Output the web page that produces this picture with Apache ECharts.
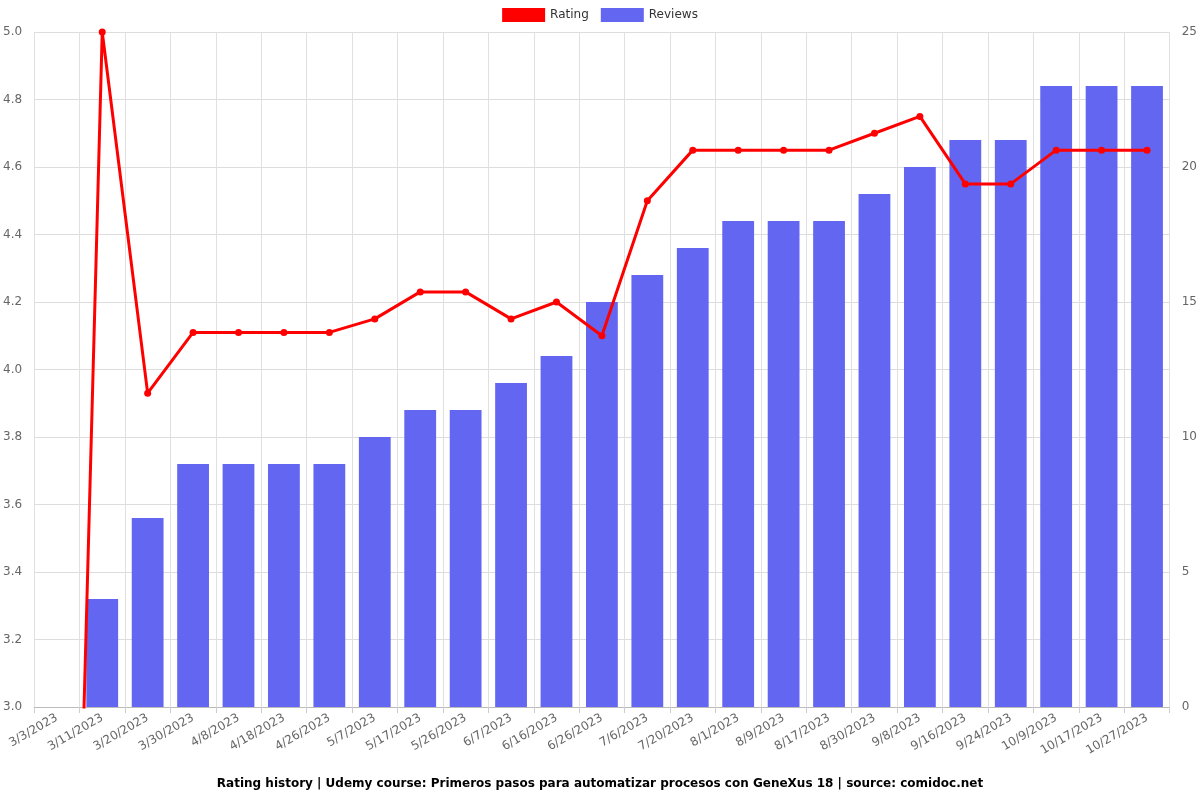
<!DOCTYPE html>
<html>
<head>
<meta charset="utf-8">
<script src="https://cdn.jsdelivr.net/npm/echarts@6/dist/echarts.min.js"></script>
<style>html,body{margin:0;padding:0;background:#fff;}#c{width:1200px;height:800px;}</style>
</head>
<body>
<div id="c"></div>
<script>
const categories = ["3/3/2023","3/11/2023","3/20/2023","3/30/2023","4/8/2023","4/18/2023","4/26/2023","5/7/2023","5/17/2023","5/26/2023","6/7/2023","6/16/2023","6/26/2023","7/6/2023","7/20/2023","8/1/2023","8/9/2023","8/17/2023","8/30/2023","9/8/2023","9/16/2023","9/24/2023","10/9/2023","10/17/2023","10/27/2023"];
const ratingValues = [0, 5.0, 3.93, 4.11, 4.11, 4.11, 4.11, 4.15, 4.23, 4.23, 4.15, 4.2, 4.1, 4.5, 4.65, 4.65, 4.65, 4.65, 4.7, 4.75, 4.55, 4.55, 4.65, 4.65, 4.65];
const reviewValues = [0, 4, 7, 9, 9, 9, 9, 10, 11, 11, 12, 13, 15, 16, 17, 18, 18, 18, 19, 20, 21, 21, 23, 23, 23];
const titleText = "Rating history | Udemy course: Primeros pasos para automatizar procesos con GeneXus 18 | source: comidoc.net";

const chart = echarts.init(document.getElementById('c'), null, {renderer: 'canvas'});
const font = 'DejaVu Sans';
chart.setOption({
  animation: false,
  textStyle: {fontFamily: font},
  title: {
    text: titleText, left: 'center', bottom: 5,
    textStyle: {fontFamily: font, fontSize: 12, fontWeight: 'bold', color: '#000'}
  },
  legend: {
    top: 3, left: 'center', itemWidth: 43, itemHeight: 14, itemGap: 12,
    textStyle: {fontFamily: font, fontSize: 12, color: '#333'},
    data: [{name: 'Rating', icon: 'rect', itemStyle: {borderWidth: 0}}, {name: 'Reviews', icon: 'rect', itemStyle: {borderWidth: 0}}]
  },
  grid: {left: 34, right: 30, top: 32, bottom: 93, containLabel: false},
  xAxis: {
    type: 'category', data: categories, boundaryGap: true,
    axisLine: {lineStyle: {color: '#bbb'}},
    axisTick: {show: true, alignWithLabel: false, length: 6, lineStyle: {color: '#ccc'}},
    splitLine: {show: true, lineStyle: {color: '#e0e0e0'}},
    axisLabel: {rotate: 30, interval: 0, color: '#666', fontSize: 12, fontFamily: font, margin: 10}
  },
  yAxis: [{
    type: 'value', min: 3, max: 5, interval: 0.2, position: 'left',
    axisLine: {show: false}, axisTick: {show: false},
    splitLine: {lineStyle: {color: '#ddd'}},
    axisLabel: {color: '#666', fontSize: 12, fontFamily: font, margin: 12, formatter: v => v.toFixed(1)}
  }, {
    type: 'value', min: 0, max: 25, interval: 5, position: 'right',
    axisLine: {show: false}, axisTick: {show: false},
    splitLine: {lineStyle: {color: '#ddd'}},
    axisLabel: {color: '#666', fontSize: 12, fontFamily: font, margin: 12}
  }],
  series: [{
    name: 'Rating', type: 'line', yAxisIndex: 0, data: ratingValues,
    z: 3, symbol: 'circle', symbolSize: 7, clip: true,
    lineStyle: {color: '#ff0000', width: 3},
    itemStyle: {color: '#ff0000'}
  }, {
    name: 'Reviews', type: 'bar', yAxisIndex: 1, data: reviewValues,
    barWidth: '70%', z: 2,
    itemStyle: {color: '#6366f1', borderWidth: 0}
  }]
});
</script>
</body>
</html>
